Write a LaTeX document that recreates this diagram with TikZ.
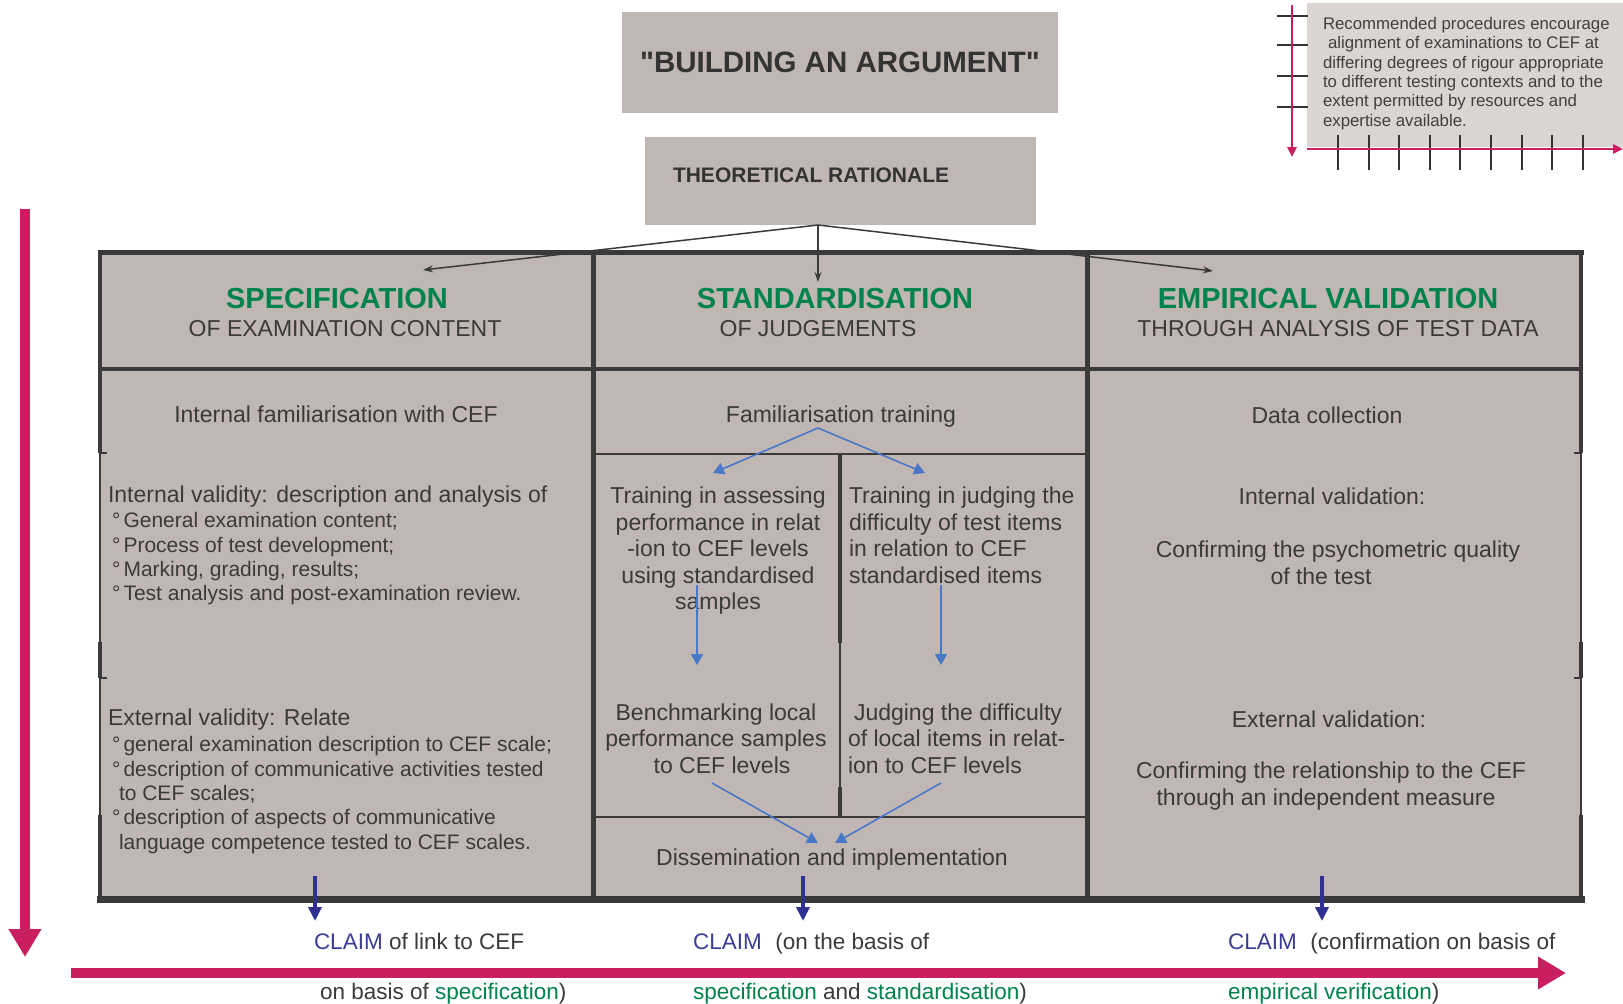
\documentclass[tikz,border=0pt]{standalone}
\usepackage{fontspec}
\setmainfont{Liberation Sans}
\newfontfamily\plainquote{Liberation Sans}[Ligatures=TeXOff]
\usetikzlibrary{arrows.meta}
\definecolor{boxgray}{HTML}{C0B7B4}
\definecolor{insetgray}{HTML}{DAD5D3}
\definecolor{framecol}{HTML}{3A3A3A}
\definecolor{hdrgreen}{HTML}{00824B}
\definecolor{lblue}{HTML}{4A78C8}
\definecolor{navy}{HTML}{2E3192}
\definecolor{claimblue}{HTML}{3C3C96}
\definecolor{pinkarrow}{HTML}{C91F61}
\definecolor{txtgray}{HTML}{3A3A3A}
\newcommand{\fsz}[2]{\fontsize{#1}{#2}\selectfont}
\begin{document}
\begin{tikzpicture}[x=1pt,y=-1pt,
  every node/.style={inner sep=0pt, outer sep=0pt, text=txtgray},
  hdr/.style={font=\fsz{29}{33}\bfseries, text=hdrgreen},
  subhdr/.style={font=\fsz{23}{27}},
  body/.style={font=\fsz{23}{26.5}},
  bodyc/.style={font=\fsz{23}{27}, align=center},
  bullets/.style={font=\fsz{21}{24.3}, align=left, anchor=west},
  claim/.style={font=\fsz{22.5}{26}, anchor=base west},
  bluearrow/.style={draw=lblue, line width=1.6pt, -{Triangle[length=11pt,width=12pt]}},
  navyarrow/.style={draw=navy, line width=3.5pt, -{Triangle[length=14pt,width=13pt]}},
  blackarrow/.style={draw=framecol, line width=1.5pt, -{Stealth[length=10pt,width=7pt]}},
  pinkbig/.style={draw=pinkarrow, line width=10pt, -{Triangle[length=28pt,width=31pt]}},
  pinksmall/.style={draw=pinkarrow, line width=2.5pt, -{Triangle[length=10pt,width=9pt]}},
  tickline/.style={draw=black!80, line width=1.4pt},
  gridline/.style={draw=framecol, line width=#1},
]
\useasboundingbox (0,0) rectangle (1623,1004);

% ---------- top-right inset ----------
\fill[insetgray] (1307,3) rectangle (1623,147);
\foreach \yy in {16,45,76,107} \draw[tickline] (1277,\yy) -- (1308,\yy);
\foreach \xx in {1338,1369,1399,1430,1460,1491,1522,1552,1583} \draw[tickline] (\xx,135) -- (\xx,170);
\coordinate (iv1) at (1292,5);
\coordinate (iv2) at (1292,157);
\coordinate (ih1) at (1307,149);
\coordinate (ih2) at (1623,149);
\draw[pinksmall] (iv1) -- (iv2);
\draw[pinksmall] (ih1) -- (ih2);
\node[font=\fsz{16.8}{19.4}, align=left, anchor=west, text=black!75] (inset) at (1323,73.5)
 {Recommended procedures encourage\\
  \hspace*{5pt}alignment of examinations to CEF at\\
  differing degrees of rigour appropriate\\
  to different testing contexts and to the\\
  extent permitted by resources and\\
  expertise available.};

% ---------- title boxes ----------
\node[fill=boxgray, minimum width=436pt, minimum height=101pt,
      font=\plainquote\fsz{29.5}{33}\bfseries, text=black!80] (title) at (840,62.5) {"BUILDING AN ARGUMENT"};
\node[fill=boxgray, minimum width=391pt, minimum height=88pt] (rat) at (840.5,181) {};
\node[font=\fsz{21}{24}\bfseries, anchor=west, text=black!80] (rattxt) at (673,175) {THEORETICAL RATIONALE};

% ---------- table ----------
\fill[boxgray] (100,250) rectangle (1581,900);
\foreach \xx in {100,1581} {
  \draw[gridline=1.3pt] (\xx,250) -- (\xx,900);
  \draw[gridline=4pt] (\xx,250) -- (\xx,453);
  \draw[gridline=4pt] (\xx,642) -- (\xx,678);
  \draw[gridline=4pt] (\xx,815) -- (\xx,900);
}
\draw[gridline=1.3pt] (100,453) -- (107,453);
\draw[gridline=1.3pt] (100,678) -- (107,678);
\draw[gridline=1.3pt] (1581,453) -- (1574,453);
\draw[gridline=1.3pt] (1581,678) -- (1574,678);
\draw[gridline=5pt] (593,250) -- (593,900);
\draw[gridline=5pt] (1087,250) -- (1087,900);
\draw[gridline=3.5pt] (98,369) -- (1583,369);
\draw[gridline=1.8pt] (593,454) -- (1087,454);
\draw[gridline=1.8pt] (593,817) -- (1087,817);
\draw[gridline=1.3pt] (840,454) -- (840,817);
\draw[gridline=4pt] (840,454) -- (840,643);
\draw[gridline=4pt] (840,787) -- (840,817);
\draw[gridline=5pt] (97.5,252) -- (1583.5,252);
\draw[gridline=7pt] (97,899) -- (1584.5,899);

% ---------- arrows from rationale ----------
\coordinate (src) at (818,225);
\coordinate (tipL) at (423,270);
\coordinate (tipM) at (818,282);
\coordinate (tipR) at (1213,271);
\draw[blackarrow] (src) -- (tipL);
\draw[blackarrow] (src) -- (tipM);
\draw[blackarrow] (src) -- (tipR);

% ---------- headers ----------
\node[hdr] (spec) at (337,299) {SPECIFICATION};
\node[subhdr] (specsub) at (345,329) {OF EXAMINATION CONTENT};
\node[hdr] (stand) at (835,299) {STANDARDISATION};
\node[subhdr] (standsub) at (818,329) {OF JUDGEMENTS};
\node[hdr] (emp) at (1328,299) {EMPIRICAL VALIDATION};
\node[subhdr] (empsub) at (1338,329) {THROUGH ANALYSIS OF TEST DATA};

% ---------- column 1 ----------
\node[body] (fam1) at (336,414) {Internal familiarisation with CEF};
\node[body, anchor=west] (intval) at (108,497) {Internal validity: description and analysis of};
\node[bullets] (intlist) at (112,559)
 {°\hspace{0.15em}General examination content;\\
  °\hspace{0.15em}Process of test development;\\
  °\hspace{0.15em}Marking, grading, results;\\
  °\hspace{0.15em}Test analysis and post-examination review.};
\node[body, anchor=west] (extval) at (108,720) {External validity: Relate};
\node[bullets] (extlist) at (112,795)
 {°\hspace{0.15em}general examination description to CEF scale;\\
  °\hspace{0.15em}description of communicative activities tested\\
  \hspace*{7pt}to CEF scales;\\
  °\hspace{0.15em}description of aspects of communicative\\
  \hspace*{7pt}language competence tested to CEF scales.};

% ---------- column 2 ----------
\node[body] (famtr) at (841,417) {Familiarisation training};
\node[body, align=center] (trassess) at (718,551)
 {Training in assessing\\performance in relat\\-ion to CEF levels\hspace*{24pt}\\using standardised\\samples};
\node[body, align=left, anchor=west] (trjudge) at (849,535.5)
 {Training in judging the\\difficulty of test items\\in relation to CEF\\standardised items};
\node[body, align=center] (bench) at (716,738.5)
 {Benchmarking local\\performance samples\\\hspace*{12pt}to CEF levels};
\node[body, align=left, anchor=west] (judge) at (848,738.5)
 {\hspace*{6pt}Judging the difficulty\\of local items in relat-\\ion to CEF levels};
\node[body] (dissem) at (832,860) {Dissemination and implementation};

\coordinate (f0) at (818,428);
\coordinate (fL) at (713,473);
\coordinate (fR) at (925,473);
\draw[bluearrow] (f0) -- (fL);
\draw[bluearrow] (f0) -- (fR);
\coordinate (vL0) at (697,585);
\coordinate (vL1) at (697,665);
\coordinate (vR0) at (941,585);
\coordinate (vR1) at (941,665);
\draw[bluearrow] (vL0) -- (vL1);
\draw[bluearrow] (vR0) -- (vR1);
\coordinate (cL0) at (712,783);
\coordinate (cL1) at (818,843);
\coordinate (cR0) at (941,783);
\coordinate (cR1) at (835,843);
\draw[bluearrow] (cL0) -- (cL1);
\draw[bluearrow] (cR0) -- (cR1);

% ---------- column 3 ----------
\node[body] (datacol) at (1327,415) {Data collection};
\node[body] (intvaln) at (1332,496) {Internal validation:};
\node[bodyc] (psych) at (1338,563) {Confirming the psychometric quality\\of the test\hspace*{34pt}};
\node[body] (extvaln) at (1329,719) {External validation:};
\node[bodyc] (relat) at (1331,786) {Confirming the relationship to the CEF\\through an independent measure\hspace*{10pt}};

% ---------- claims ----------
\coordinate (n1a) at (315,876);
\coordinate (n1b) at (315,921);
\coordinate (n2a) at (803,876);
\coordinate (n2b) at (803,921);
\coordinate (n3a) at (1322,876);
\coordinate (n3b) at (1322,921);
\draw[navyarrow] (n1a) -- (n1b);
\draw[navyarrow] (n2a) -- (n2b);
\draw[navyarrow] (n3a) -- (n3b);

\node[claim] (c1a) at (314,949) {\textcolor{claimblue}{CLAIM} of link to CEF};
\node[claim] (c1b) at (320,999) {on basis of \textcolor{hdrgreen}{specification})};
\node[claim] (c2a) at (693,949) {\textcolor{claimblue}{CLAIM}\hspace{0.6em}(on the basis of};
\node[claim] (c2b) at (693,999) {\textcolor{hdrgreen}{specification} and \textcolor{hdrgreen}{standardisation})};
\node[claim] (c3a) at (1228,949) {\textcolor{claimblue}{CLAIM}\hspace{0.6em}(confirmation on basis of};
\node[claim] (c3b) at (1228,999) {\textcolor{hdrgreen}{empirical verification})};

% ---------- big pink axes ----------
\coordinate (pv0) at (25,209);
\coordinate (pv1) at (25,957);
\coordinate (ph0) at (71,973);
\coordinate (ph1) at (1566,973);
\draw[pinkbig] (pv0) -- (pv1);
\draw[pinkbig] (ph0) -- (ph1);
\end{tikzpicture}
\end{document}
